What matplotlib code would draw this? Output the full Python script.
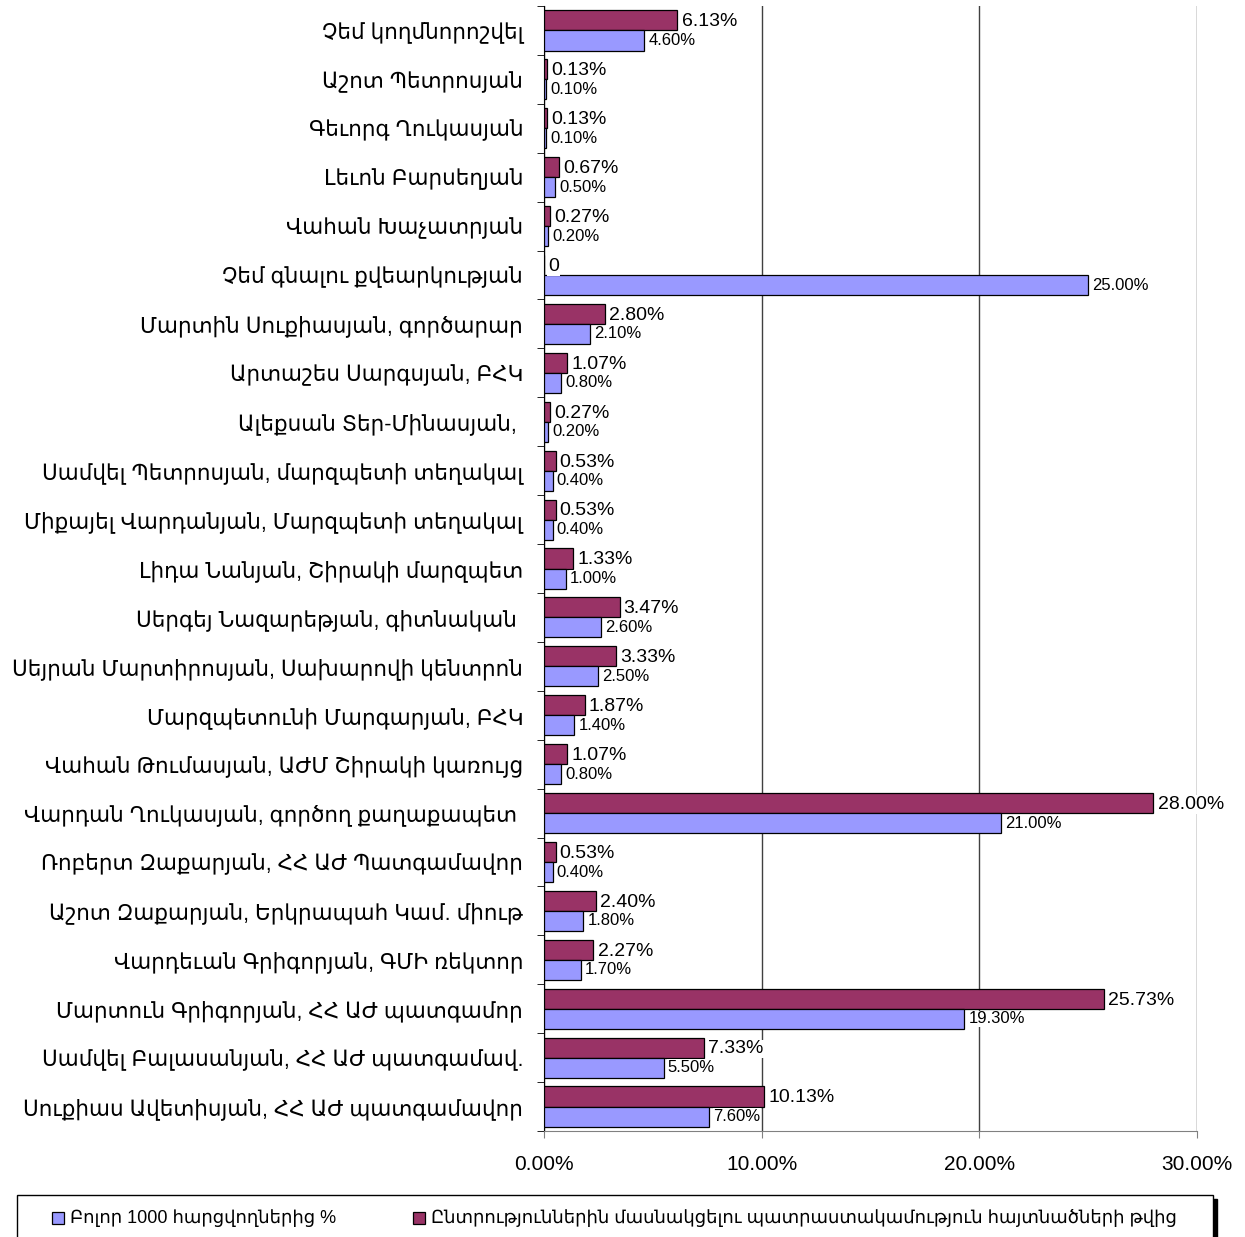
import matplotlib
matplotlib.use("Agg")
import matplotlib.pyplot as plt
from matplotlib.patches import Rectangle
import numpy as np

plt.rcParams['font.family'] = ['Liberation Sans', 'DejaVu Sans']

categories = [
    "Չեմ կողմնորոշվել",
    "Աշոտ Պետրոսյան",
    "Գեւորգ Ղուկասյան",
    "Լեւոն Բարսեղյան",
    "Վահան Խաչատրյան",
    "Չեմ գնալու քվեարկության",
    "Մարտին Սուքիասյան, գործարար",
    "Արտաշես Սարգսյան, ԲՀԿ",
    "Ալեքսան Տեր-Մինասյան, ",
    "Սամվել Պետրոսյան, մարզպետի տեղակալ",
    "Միքայել Վարդանյան, Մարզպետի տեղակալ",
    "Լիդա Նանյան, Շիրակի մարզպետ",
    "Սերգեյ Նազարեթյան, գիտնական ",
    "Սեյրան Մարտիրոսյան, Սախարովի կենտրոն",
    "Մարզպետունի Մարգարյան, ԲՀԿ",
    "Վահան Թումասյան, ԱԺՄ Շիրակի կառույց",
    "Վարդան Ղուկասյան, գործող քաղաքապետ ",
    "Ռոբերտ Զաքարյան, ՀՀ ԱԺ Պատգամավոր",
    "Աշոտ Զաքարյան, Երկրապահ Կամ. միութ",
    "Վարդեւան Գրիգորյան, ԳՄԻ ռեկտոր",
    "Մարտուն Գրիգորյան, ՀՀ ԱԺ պատգամոր",
    "Սամվել Բալասանյան, ՀՀ ԱԺ պատգամավ.",
    "Սուքիաս Ավետիսյան, ՀՀ ԱԺ պատգամավոր",
]

all_respondents = [4.60, 0.10, 0.10, 0.50, 0.20, 25.00, 2.10, 0.80, 0.20, 0.40,
                   0.40, 1.00, 2.60, 2.50, 1.40, 0.80, 21.00, 0.40, 1.80, 1.70,
                   19.30, 5.50, 7.60]
willing_voters = [6.13, 0.13, 0.13, 0.67, 0.27, 0.00, 2.80, 1.07, 0.27, 0.53,
                  0.53, 1.33, 3.47, 3.33, 1.87, 1.07, 28.00, 0.53, 2.40, 2.27,
                  25.73, 7.33, 10.13]

series_names = ["Բոլոր 1000 հարցվողներից %",
                "Ընտրություններին մասնակցելու պատրաստակամություն հայտնածների թվից"]
xticks = [0, 10, 20, 30]
xtick_labels = ["0.00%", "10.00%", "20.00%", "30.00%"]

blue = "#9999FF"
maroon = "#993366"

W, H = 1245, 1237
fig = plt.figure(figsize=(W / 100, H / 100), dpi=100)
ax = fig.add_axes([544 / W, 1 - 1131 / H, (1197 - 544) / W, (1131 - 6) / H])

n = len(categories)
y = np.arange(n)
h = 0.41

ax.barh(y - h / 2, willing_voters, height=h, color=maroon, edgecolor="black",
        linewidth=0.9, zorder=3)
ax.barh(y + h / 2, all_respondents, height=h, color=blue, edgecolor="black",
        linewidth=0.9, zorder=3)

for i in range(n):
    v = willing_voters[i]
    txt = "0" if v == 0 else f"{v:.2f}%"
    ax.annotate(txt, (v, i - h / 2), xytext=(3, -1), textcoords="offset points",
                ha="left", va="center", fontsize=14, zorder=5,
                bbox=dict(facecolor="white", edgecolor="none", pad=0.5))
    b = all_respondents[i]
    ax.annotate(f"{b:.2f}%", (b, i + h / 2), xytext=(3, 0), textcoords="offset points",
                ha="left", va="center", fontsize=12, zorder=5,
                bbox=dict(facecolor="white", edgecolor="none", pad=0.5))

ax.set_xlim(0, 30)
ax.set_ylim(n - 0.5, -0.5)
ax.set_xticks(xticks)
ax.set_xticklabels(xtick_labels, fontsize=15)
ax.set_yticks(y)
ax.set_yticklabels(categories, fontsize=15.5)
ax.tick_params(axis="y", which="major", length=0, pad=15)
ax.set_yticks(np.arange(-0.5, n, 1.0), minor=True)
ax.tick_params(axis="y", which="minor", length=5, direction="out", color="black")
ax.tick_params(axis="x", length=5, direction="out", color="#808080", pad=12)

ax.grid(axis="x", color="#404040", linewidth=1, zorder=0)
ax.set_axisbelow(True)
for s in ["top", "right"]:
    ax.spines[s].set_visible(False)
ax.spines["left"].set_color("black")
ax.spines["bottom"].set_color("#808080")

# Legend (drawn in figure pixel coordinates)
def fx(px):
    return px / W

def fy(py):
    return 1 - py / H

fig.patches.append(Rectangle((fx(21), fy(1245)), fx(1217) - fx(21), fy(1199) - fy(1245),
                             transform=fig.transFigure, facecolor="black",
                             edgecolor="black", zorder=1))
fig.patches.append(Rectangle((fx(17), fy(1245)), fx(1213) - fx(17), fy(1195) - fy(1245),
                             transform=fig.transFigure, facecolor="white",
                             edgecolor="black", linewidth=1, zorder=2))
for (mx, tx), col, lab in zip([(52, 70), (413, 431)], [blue, maroon], series_names):
    fig.patches.append(Rectangle((fx(mx), fy(1224)), fx(12), 12 / H,
                                 transform=fig.transFigure, facecolor=col,
                                 edgecolor="black", linewidth=0.9, zorder=3))
    fig.text(fx(tx), fy(1218), lab, fontsize=13, ha="left", va="center", zorder=4)

fig.savefig("out.png", dpi=100)
